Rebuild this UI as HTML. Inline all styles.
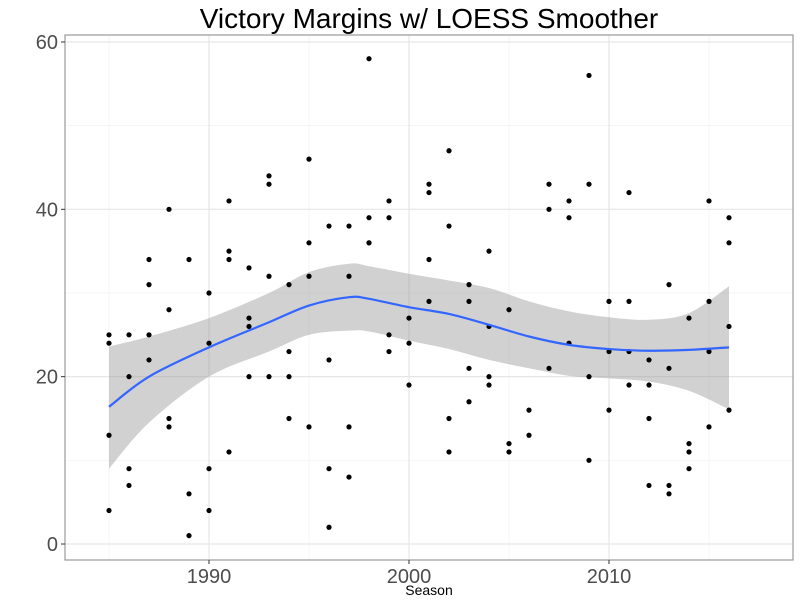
<!DOCTYPE html>
<html><head><meta charset="utf-8"><style>
body{margin:0;background:#fff}
svg{display:block;font-family:"Liberation Sans",sans-serif}
</style></head><body>
<svg id="c" width="800" height="600"></svg>
<script>
const pointYears=[1985,1985,1985,1985,1986,1986,1986,1986,1987,1987,1987,1987,1988,1988,1988,1988,1989,1989,1989,1990,1990,1990,1990,1991,1991,1991,1991,1992,1992,1992,1992,1993,1993,1993,1993,1994,1994,1994,1994,1995,1995,1995,1995,1996,1996,1996,1996,1997,1997,1997,1997,1998,1998,1998,1998,1999,1999,1999,1999,2000,2000,2000,2001,2001,2001,2001,2002,2002,2002,2002,2003,2003,2003,2003,2004,2004,2004,2004,2005,2005,2005,2006,2006,2007,2007,2007,2008,2008,2008,2009,2009,2009,2009,2010,2010,2010,2011,2011,2011,2011,2012,2012,2012,2012,2013,2013,2013,2013,2014,2014,2014,2014,2015,2015,2015,2015,2016,2016,2016,2016];
const pointMargins=[25,24,13,4,25,20,9,7,34,31,25,22,40,28,15,14,34,6,1,30,24,9,4,41,35,34,11,33,27,26,20,44,43,32,20,31,23,20,15,46,36,32,14,38,22,9,2,38,32,14,8,58,39,36,36,41,39,25,23,27,24,19,43,42,34,29,47,38,15,11,31,29,21,17,35,26,20,19,28,12,11,16,13,43,40,21,41,39,24,56,43,20,10,29,23,16,42,29,23,19,22,19,15,7,31,21,7,6,27,12,11,9,41,29,23,14,39,36,26,16];
const smoothYears=[1985,1987,1990,1993,1995,1997,1998,2000,2002,2004,2006,2008,2010,2012,2014,2016];
const smoothFit=[16.4,20,23.5,26.5,28.5,29.5,29.3,28.3,27.5,26.2,24.8,23.8,23.3,23.1,23.2,23.5];
const smoothUpper=[23.6,24.8,27,30,32.5,33.5,33.2,32.3,31.5,30.6,29,27.8,27.1,26.8,27.6,30.8];
const smoothLower=[9,14.5,20,23,25,25.5,25.4,24.3,23.3,22,21,20.1,19.8,19.4,18.3,16.1];
const xMajor=[1990,2000,2010], xMinor=[1985,1995,2005,2015];
const yMajor=[0,20,40,60], yMinor=[10,30,50];
const L=65,R=793,T=35,B=560;
const X=v=>109+(v-1985)*20, Y=v=>544-v*8.367;
const s=document.getElementById('c'),NS='http://www.w3.org/2000/svg';
function mk(t,a,p){const e=document.createElementNS(NS,t);for(const k in a)e.setAttribute(k,a[k]);(p||s).appendChild(e);return e;}
function curve(P,start){let d=(start?'M':'L')+P[0][0]+','+P[0][1];
for(let i=0;i<P.length-1;i++){const p0=P[Math.max(i-1,0)],p1=P[i],p2=P[i+1],p3=P[Math.min(i+2,P.length-1)];
d+=` C${p1[0]+(p2[0]-p0[0])/6},${p1[1]+(p2[1]-p0[1])/6} ${p2[0]-(p3[0]-p1[0])/6},${p2[1]-(p3[1]-p1[1])/6} ${p2[0]},${p2[1]}`;}
return d;}
const g=mk('g',{});


yMinor.forEach(v=>mk('line',{x1:L,x2:R,y1:Y(v),y2:Y(v),stroke:'#f0f0f0','stroke-width':0.7},g));
xMinor.forEach(v=>mk('line',{x1:X(v),x2:X(v),y1:T,y2:B,stroke:'#f0f0f0','stroke-width':0.7},g));
yMajor.forEach(v=>mk('line',{x1:L,x2:R,y1:Y(v),y2:Y(v),stroke:'#e6e6e6','stroke-width':1.2},g));
xMajor.forEach(v=>mk('line',{x1:X(v),x2:X(v),y1:T,y2:B,stroke:'#e6e6e6','stroke-width':1.2},g));
const UP=smoothYears.map((x,i)=>[X(x),Y(smoothUpper[i])]);
const LO=smoothYears.map((x,i)=>[X(x),Y(smoothLower[i])]).reverse();
const band=mk('path',{d:curve(UP,true)+' '+curve(LO,false)+' Z',fill:'#999',opacity:0.45});


const pts=mk('g',{});


pointYears.forEach((yr,i)=>{const c=mk('circle',{cx:X(yr),cy:Y(pointMargins[i]),r:2.6,fill:'#000'},pts);

});
const P=smoothYears.map((x,i)=>[X(x),Y(smoothFit[i])]);
const ln=mk('path',{d:curve(P,true),fill:'none',stroke:'#3366FF','stroke-width':2.2});


const fr=mk('rect',{x:L,y:T,width:R-L,height:B-T,fill:'none',stroke:'#999','stroke-width':1.2});


yMajor.forEach(v=>{mk('line',{x1:L-4,x2:L,y1:Y(v),y2:Y(v),stroke:'#333'});
const t=mk('text',{x:L-7,y:Y(v)+7,'text-anchor':'end','font-size':20,fill:'#4d4d4d'});t.textContent=v;

});
xMajor.forEach(v=>{mk('line',{x1:X(v),x2:X(v),y1:B,y2:B+4,stroke:'#333'});
const t=mk('text',{x:X(v),y:B+23,'text-anchor':'middle','font-size':20,fill:'#4d4d4d'});t.textContent=v;

});
const xt=mk('text',{x:(L+R)/2,y:595,'text-anchor':'middle','font-size':14,fill:'#000'});xt.textContent='Season';


const tt=mk('text',{x:(L+R)/2,y:28,'text-anchor':'middle','font-size':28,fill:'#000'});tt.textContent='Victory Margins w/ LOESS Smoother';


</script>
</body></html>
